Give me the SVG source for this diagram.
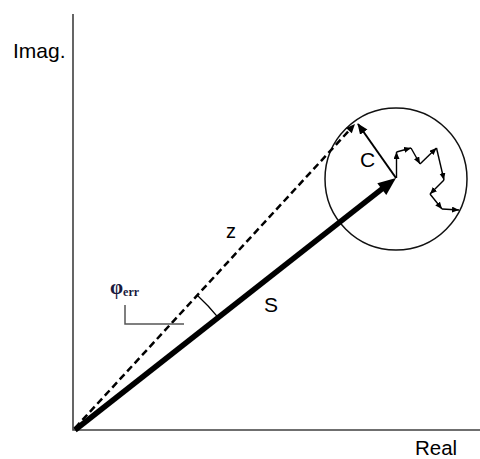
<svg xmlns="http://www.w3.org/2000/svg" width="480" height="459" viewBox="0 0 480 459">
<style>
.lbl{font-family:"Liberation Sans",Arial,sans-serif;fill:#000}
.axis{stroke:#404040;stroke-width:1.6;fill:none}
.walk{stroke:#000;stroke-width:1.4;fill:none;marker-end:url(#small)}
</style>
<defs>
<marker id="small" markerUnits="userSpaceOnUse" markerWidth="8" markerHeight="7" refX="7" refY="3" orient="auto">
<path d="M0,0 L7,3 L0,6 z" fill="#000"/>
</marker>
<marker id="cArrow" markerUnits="userSpaceOnUse" markerWidth="12" markerHeight="10" refX="10" refY="4.5" orient="auto">
<path d="M0,0 L11,4.5 L0,9 z" fill="#000"/>
</marker>
</defs>
<rect width="480" height="459" fill="#fff"/>
<g id="axes">
<path class="axis" d="M73,14 V430 H480"/>
<text class="lbl" x="13" y="58" font-size="21">Imag.</text>
<text class="lbl" x="415" y="455" font-size="20.5">Real</text>
</g>
<g id="circle">
<circle cx="396" cy="179" r="71" fill="none" stroke="#111" stroke-width="1.5"/>
</g>
<g id="connectors">
<g id="z-vector">
<line x1="75" y1="428" x2="349" y2="130.6" stroke="#000" stroke-width="2.5" stroke-dasharray="7,4"/>
<polygon points="355,124 351.8,133.3 346,127.9" fill="#000"/>
</g>
<g id="s-vector">
<line x1="75" y1="430" x2="383" y2="188.2" stroke="#000" stroke-width="5.5"/>
<polygon points="396,178 386.3,195 377.3,183.2" fill="#000"/>
</g>
<g id="c-vector">
<line x1="396" y1="178" x2="358" y2="124" stroke="#000" stroke-width="2" marker-end="url(#cArrow)"/>
</g>
<g id="random-walk">
<line class="walk" x1="396.5" y1="178" x2="396.5" y2="152"/>
<line class="walk" x1="396.5" y1="152" x2="411" y2="148"/>
<line class="walk" x1="411" y1="148" x2="420" y2="164"/>
<line class="walk" x1="420" y1="164" x2="436.5" y2="148"/>
<line class="walk" x1="436.5" y1="148" x2="444" y2="180"/>
<line class="walk" x1="444" y1="180" x2="430" y2="194"/>
<line class="walk" x1="430" y1="194" x2="442" y2="209"/>
<line class="walk" x1="442" y1="209" x2="459" y2="210"/>
</g>
<path id="angle-arc" d="M197.5,295.4 A182,182 0 0 1 217.8,317.2" fill="none" stroke="#000" stroke-width="1.3"/>
</g>
<g id="labels">
<text class="lbl" x="226" y="238" font-size="20">z</text>
<text class="lbl" x="264" y="312" font-size="21">S</text>
<text class="lbl" x="360" y="167" font-size="21">C</text>
</g>
<g id="phi-err">
<text x="110" y="294" font-family="'Liberation Serif','Times New Roman',serif" font-weight="bold" fill="#1a1a3e" font-size="21">φ<tspan font-size="12" dy="2">err</tspan></text>
<path d="M125,305 V324 H184" fill="none" stroke="#555" stroke-width="1.5"/>
</g>
</svg>
